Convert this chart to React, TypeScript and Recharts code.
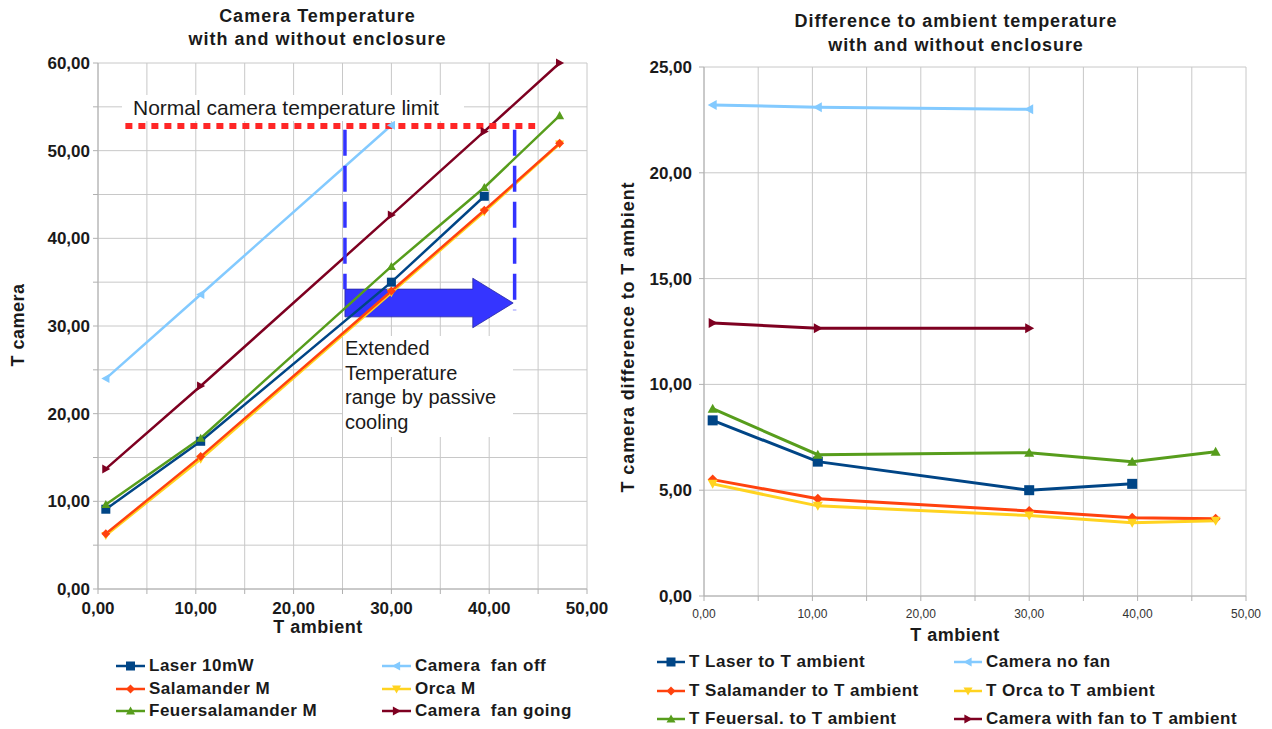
import React from 'react';
import { LineChart, Line, XAxis, YAxis, CartesianGrid, ReferenceLine, ReferenceArea } from 'recharts';

// ambient temperatures of the measurements
const ambient = [0.8, 10.5, 30.0, 39.5, 47.2];

// camera temperature (left chart)
const laserTemp = [9.1, 16.85, 35.0, 44.8, null];
const salamanderTemp = [6.3, 15.1, 34.0, 43.2, 50.85];
const orcaTemp = [6.1, 14.8, 33.8, 43.0, 50.75];
const feuerTemp = [9.65, 17.2, 36.8, 45.8, 54.0];
const fanGoingTemp = [13.7, 23.15, 42.65, 52.2, 60.0];
const fanOffTemp = [24.0, 33.6, 52.9, null, null];

// difference to ambient (right chart)
const laserDiff = [8.3, 6.35, 5.0, 5.3, null];
const salamanderDiff = [5.5, 4.6, 4.02, 3.7, 3.65];
const orcaDiff = [5.3, 4.26, 3.8, 3.46, 3.56];
const feuerDiff = [8.85, 6.68, 6.77, 6.34, 6.82];
const noFanDiff = [23.2, 23.1, 23.0, null, null];
const withFanDiff = [12.9, 12.65, 12.65, null, null];

// ticks
const leftXTicks = [0, 5, 10, 15, 20, 25, 30, 35, 40, 45, 50];
const leftYTicks = [0, 5, 10, 15, 20, 25, 30, 35, 40, 45, 50, 55, 60];
const rightXTicks = [0, 5, 10, 15, 20, 25, 30, 35, 40, 45, 50];
const rightYTicks = [0, 5, 10, 15, 20, 25];

// annotations (data units)
const tempLimit = 52.8;
const limitFrom = 2.8;
const limitTo = 44.7;
const rangeStart = 25.25;
const rangeEnd = 42.6;
const arrowTip = 42.45;
const arrowLow = 29.8;
const arrowHigh = 35.45;
const dashTop = 52.4;
const dashLeftBottom = 34.2;
const dashRightBottom = 31.8;

const C = {
  laser: '#004586',
  salamander: '#ff420e',
  orca: '#ffd320',
  feuer: '#579d1c',
  fanGoing: '#7e0021',
  fanOff: '#83caff',
};

type Kind = 'square' | 'diamond' | 'down' | 'up' | 'right' | 'left';

type Series = { key: string; name: string; color: string; marker: Kind; values: (number | null)[] };

const leftSeries: Series[] = [
  { key: 'laser', name: 'Laser 10mW', color: C.laser, marker: 'square', values: laserTemp },
  { key: 'salamander', name: 'Salamander M', color: C.salamander, marker: 'diamond', values: salamanderTemp },
  { key: 'orca', name: 'Orca M', color: C.orca, marker: 'down', values: orcaTemp },
  { key: 'feuer', name: 'Feuersalamander M', color: C.feuer, marker: 'up', values: feuerTemp },
  { key: 'fanGoing', name: 'Camera  fan going', color: C.fanGoing, marker: 'right', values: fanGoingTemp },
  { key: 'fanOff', name: 'Camera  fan off', color: C.fanOff, marker: 'left', values: fanOffTemp },
];

const rightSeries: Series[] = [
  { key: 'laser', name: 'T Laser to T ambient', color: C.laser, marker: 'square', values: laserDiff },
  { key: 'salamander', name: 'T Salamander to T ambient', color: C.salamander, marker: 'diamond', values: salamanderDiff },
  { key: 'orca', name: 'T Orca to T ambient', color: C.orca, marker: 'down', values: orcaDiff },
  { key: 'feuer', name: 'T Feuersal. to T ambient', color: C.feuer, marker: 'up', values: feuerDiff },
  { key: 'withFan', name: 'Camera with fan to T ambient', color: C.fanGoing, marker: 'right', values: withFanDiff },
  { key: 'noFan', name: 'Camera no fan', color: C.fanOff, marker: 'left', values: noFanDiff },
];

// orange sits on top of the yellow line in the left chart
const leftDrawOrder = [0, 2, 1, 3, 4, 5].map((i) => leftSeries[i]);

const buildRows = (series: Series[]) =>
  ambient.map((a, i) => {
    const row: Record<string, number | null> = { ambient: a };
    series.forEach((s) => (row[s.key] = s.values[i]));
    return row;
  });

const leftRows = buildRows(leftSeries);
const rightRows = buildRows(rightSeries);

const comma = (v: number) => v.toFixed(2).replace('.', ',');
const fmtTens = (v: number) => (v % 10 === 0 ? comma(v) : '');

const MarkerShape = ({ kind, cx, cy, color, r }: { kind: Kind; cx: number; cy: number; color: string; r: number }) => {
  const p = (pts: number[][]) => pts.map((q) => q.join(',')).join(' ');
  switch (kind) {
    case 'square':
      return <rect x={cx - r} y={cy - r} width={2 * r} height={2 * r} fill={color} />;
    case 'diamond':
      return <polygon points={p([[cx, cy - r], [cx + r, cy], [cx, cy + r], [cx - r, cy]])} fill={color} />;
    case 'up':
      return <polygon points={p([[cx, cy - r], [cx + r, cy + r * 0.8], [cx - r, cy + r * 0.8]])} fill={color} />;
    case 'down':
      return <polygon points={p([[cx, cy + r], [cx + r, cy - r * 0.8], [cx - r, cy - r * 0.8]])} fill={color} />;
    case 'right':
      return <polygon points={p([[cx + r, cy], [cx - r * 0.8, cy - r], [cx - r * 0.8, cy + r]])} fill={color} />;
    case 'left':
      return <polygon points={p([[cx - r, cy], [cx + r * 0.8, cy - r], [cx + r * 0.8, cy + r]])} fill={color} />;
  }
  return null;
};

const renderLines = (series: Series[], width: number, r: number) =>
  series.map((s) => (
    <Line
      key={s.key}
      type="linear"
      dataKey={s.key}
      name={s.name}
      stroke={s.color}
      strokeWidth={width}
      isAnimationActive={false}
      activeDot={false}
      dot={(d: any) =>
        d.cx == null || d.cy == null || d.value == null ? (
          <g key={`${s.key}-${d.index}`} />
        ) : (
          <MarkerShape key={`${s.key}-${d.index}`} kind={s.marker} cx={d.cx} cy={d.cy} color={s.color} r={r} />
        )
      }
    />
  ));

const ArrowShape = (props: any) => {
  const { x, y, width, height } = props;
  const bodyTop = y + height * 0.22;
  const bodyBottom = y + height * 0.78;
  const headX = x + width * 0.76;
  const pts = [
    [x, bodyTop],
    [headX, bodyTop],
    [headX, y],
    [x + width, y + height / 2],
    [headX, y + height],
    [headX, bodyBottom],
    [x, bodyBottom],
  ]
    .map((q) => q.join(','))
    .join(' ');
  return <polygon points={pts} fill="#3535ff" stroke="#2a2aa0" strokeWidth={0.8} />;
};

const LegendItem = ({ s, width }: { s: Series; width: number }) => (
  <div style={{ display: 'flex', alignItems: 'center' }}>
    <svg width={width} height={14} style={{ display: 'block' }}>
      <line x1={0} y1={7} x2={width} y2={7} stroke={s.color} strokeWidth={2.5} />
      <MarkerShape kind={s.marker} cx={width / 2} cy={7} color={s.color} r={4.5} />
    </svg>
    <span style={{ marginLeft: 4, whiteSpace: 'pre' }}>{s.name}</span>
  </div>
);

const gridColor = '#c8c8c8';
const axisColor = '#b0b0b0';
const tickBold = { fontSize: 17, fontWeight: 700, fill: '#1a1a1a' };

export default function App() {
  const leftLegendOrder = [
    [leftSeries[0], leftSeries[5]],
    [leftSeries[1], leftSeries[2]],
    [leftSeries[3], leftSeries[4]],
  ];
  const rightLegendOrder = [
    [rightSeries[0], rightSeries[5]],
    [rightSeries[1], rightSeries[2]],
    [rightSeries[3], rightSeries[4]],
  ];

  return (
    <div
      style={{
        position: 'absolute',
        left: 0,
        top: 0,
        width: 1272,
        height: 729,
        background: '#fff',
        overflow: 'hidden',
        fontFamily: '"Liberation Sans", Arial, sans-serif',
        color: '#1a1a1a',
      }}
    >
      {/* left chart */}
      <div style={{ position: 'absolute', left: 0, top: 0 }}>
        <LineChart width={620} height={640} data={leftRows} margin={{ top: 63, right: 33, left: 0, bottom: 0 }}>
          <CartesianGrid stroke={gridColor} strokeWidth={1} />
          <XAxis
            dataKey="ambient"
            type="number"
            domain={[0, 50]}
            ticks={leftXTicks}
            tickFormatter={fmtTens}
            interval={0}
            height={51}
            tick={tickBold}
            tickSize={5}
            tickMargin={8}
            stroke={axisColor}
          />
          <YAxis
            type="number"
            domain={[0, 60]}
            ticks={leftYTicks}
            tickFormatter={fmtTens}
            interval={0}
            width={98}
            tick={tickBold}
            tickSize={5}
            tickMargin={3}
            stroke={axisColor}
          />
          {renderLines(leftDrawOrder, 2.5, 4.5)}
          <ReferenceLine
            segment={[{ x: rangeStart, y: dashTop }, { x: rangeStart, y: dashLeftBottom }]}
            stroke="#3333ff"
            strokeWidth={3.5}
            strokeDasharray="26 10"
          />
          <ReferenceLine
            segment={[{ x: rangeEnd, y: dashTop }, { x: rangeEnd, y: dashRightBottom }]}
            stroke="#3333ff"
            strokeWidth={3.5}
            strokeDasharray="26 10"
          />
          <ReferenceArea x1={rangeStart} x2={arrowTip} y1={arrowLow} y2={arrowHigh} shape={ArrowShape} />
          <ReferenceLine
            segment={[{ x: limitFrom, y: tempLimit }, { x: limitTo, y: tempLimit }]}
            stroke="#ff2626"
            strokeWidth={6}
            strokeDasharray="7 6"
          />
        </LineChart>
      </div>

      {/* right chart */}
      <div style={{ position: 'absolute', left: 620, top: 0 }}>
        <LineChart width={652} height={650} data={rightRows} margin={{ top: 67, right: 26, left: 0, bottom: 0 }}>
          <CartesianGrid stroke={gridColor} strokeWidth={1} />
          <XAxis
            dataKey="ambient"
            type="number"
            domain={[0, 50]}
            ticks={rightXTicks}
            tickFormatter={fmtTens}
            interval={0}
            height={54}
            tick={{ fontSize: 12, fill: '#333' }}
            tickSize={5}
            tickMargin={8}
            stroke={axisColor}
          />
          <YAxis
            type="number"
            domain={[0, 25]}
            ticks={rightYTicks}
            tickFormatter={comma}
            interval={0}
            width={84}
            tick={tickBold}
            tickSize={5}
            tickMargin={7}
            stroke={axisColor}
          />
          {renderLines(rightSeries, 3, 5)}
        </LineChart>
      </div>

      {/* titles */}
      <div style={{ position: 'absolute', left: 0, width: 635, top: 5, textAlign: 'center', fontSize: 18, fontWeight: 700, lineHeight: '23px', letterSpacing: 1 }}>
        Camera Temperature
        <br />
        with and without enclosure
      </div>
      <div style={{ position: 'absolute', left: 706, width: 500, top: 9, textAlign: 'center', fontSize: 18, fontWeight: 700, lineHeight: '24px', letterSpacing: 0.9 }}>
        Difference to ambient temperature
        <br />
        with and without enclosure
      </div>

      {/* axis titles */}
      <div style={{ position: 'absolute', left: 218, width: 200, top: 617, textAlign: 'center', fontSize: 18, fontWeight: 700, letterSpacing: 0.5 }}>T ambient</div>
      <div style={{ position: 'absolute', left: 855, width: 200, top: 625, textAlign: 'center', fontSize: 18, fontWeight: 700, letterSpacing: 0.5 }}>T ambient</div>
      <div style={{ position: 'absolute', left: 18, top: 325, transform: 'translate(-50%, -50%) rotate(-90deg)', whiteSpace: 'nowrap', fontSize: 18, fontWeight: 700, letterSpacing: 0.5 }}>
        T camera
      </div>
      <div style={{ position: 'absolute', left: 628, top: 337, transform: 'translate(-50%, -50%) rotate(-90deg)', whiteSpace: 'nowrap', fontSize: 18, fontWeight: 700, letterSpacing: 0.9 }}>
        T camera difference to T ambient
      </div>

      {/* annotations */}
      <div style={{ position: 'absolute', left: 122, top: 95, width: 342, height: 26, background: '#fff', fontSize: 21, lineHeight: '26px', paddingLeft: 11, boxSizing: 'border-box', whiteSpace: 'nowrap' }}>
        Normal camera temperature limit
      </div>
      <div style={{ position: 'absolute', left: 343, top: 336, width: 170, height: 101, background: '#fff', fontSize: 20, lineHeight: '24.7px', paddingLeft: 2, boxSizing: 'border-box' }}>
        Extended
        <br />
        Temperature
        <br />
        range by passive
        <br />
        cooling
      </div>

      {/* legends */}
      <div style={{ position: 'absolute', left: 116, top: 655, fontSize: 17, fontWeight: 700, lineHeight: '22.5px', letterSpacing: 0.5 }}>
        {leftLegendOrder.map((pair, i) => (
          <div key={i} style={{ display: 'flex' }}>
            <div style={{ width: 266 }}>
              <LegendItem s={pair[0]} width={29} />
            </div>
            <LegendItem s={pair[1]} width={29} />
          </div>
        ))}
      </div>
      <div style={{ position: 'absolute', left: 657, top: 648, fontSize: 17, fontWeight: 700, lineHeight: '28.5px', letterSpacing: 0.5 }}>
        {rightLegendOrder.map((pair, i) => (
          <div key={i} style={{ display: 'flex' }}>
            <div style={{ width: 297 }}>
              <LegendItem s={pair[0]} width={28} />
            </div>
            <LegendItem s={pair[1]} width={28} />
          </div>
        ))}
      </div>
    </div>
  );
}
